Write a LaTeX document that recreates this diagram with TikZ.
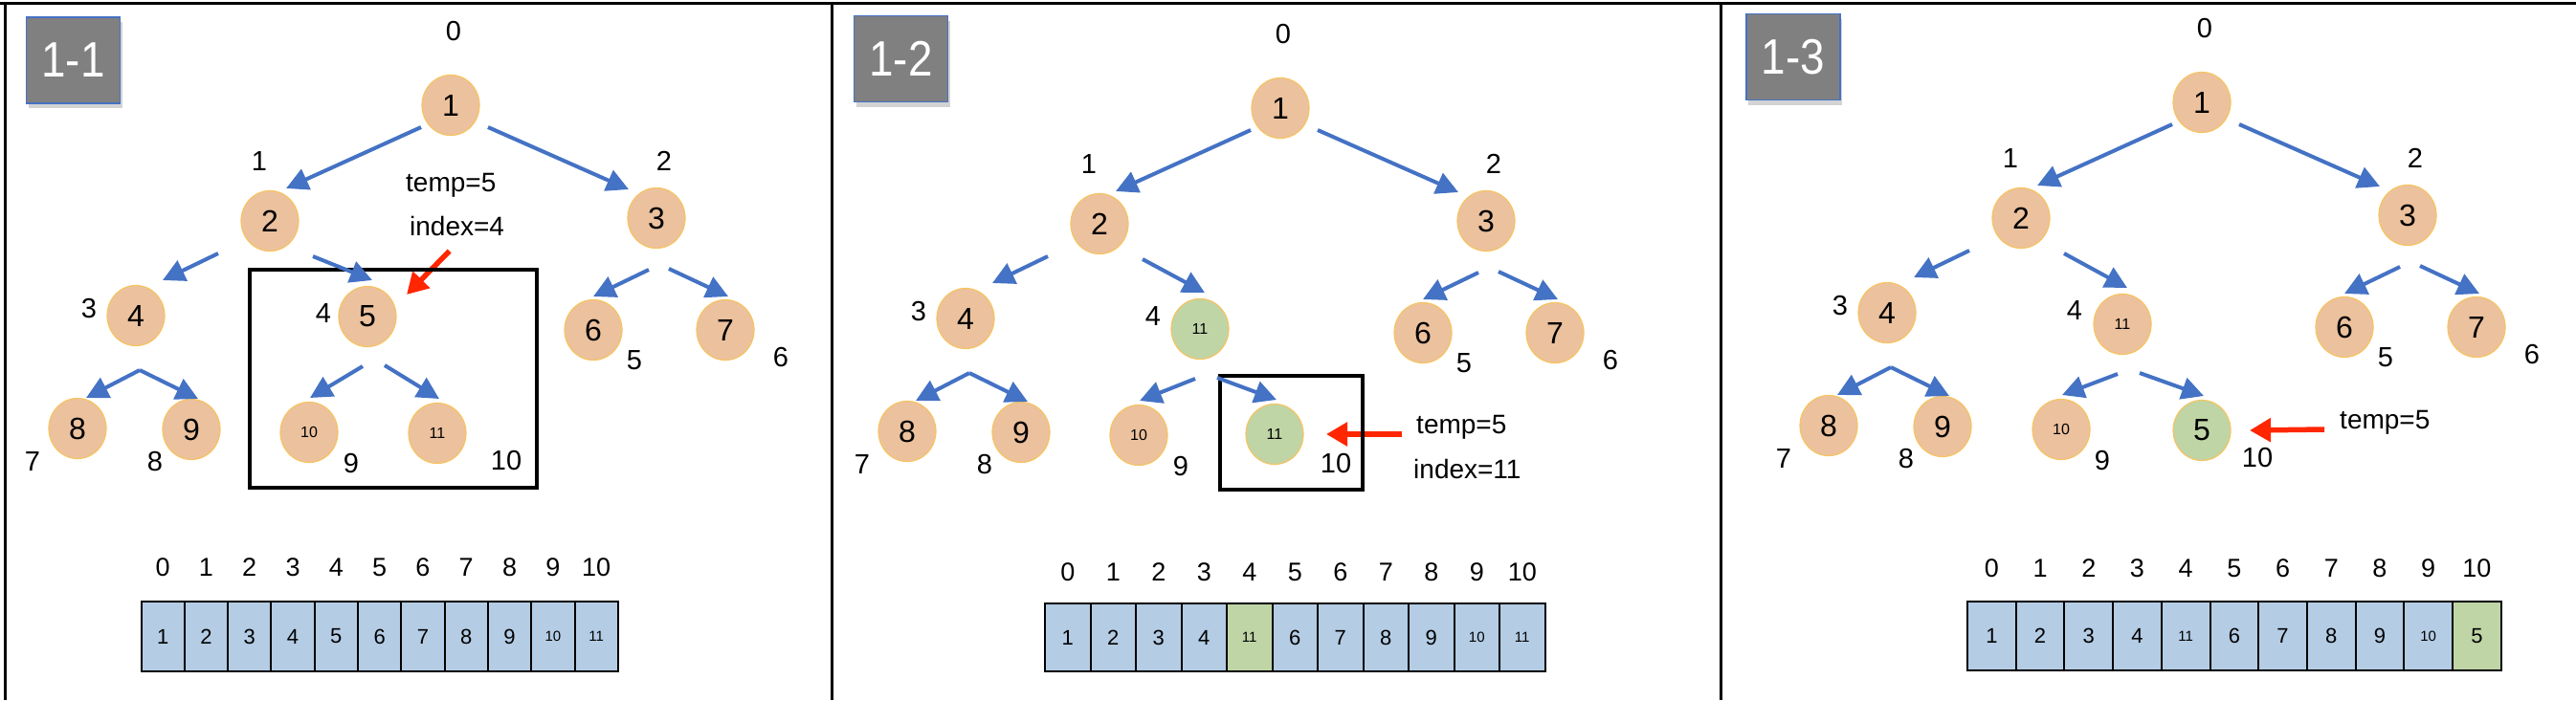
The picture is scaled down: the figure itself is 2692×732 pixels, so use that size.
\documentclass[tikz,border=0pt]{standalone}
\usepackage{fontspec}
\setmainfont{Liberation Sans}
\usetikzlibrary{arrows.meta, shapes.geometric, shadows, calc}

\definecolor{peach}{RGB}{236,193,158}
\definecolor{ringgold}{RGB}{246,196,98}
\definecolor{sage}{RGB}{191,213,166}
\definecolor{cellblue}{RGB}{180,204,228}
\definecolor{linkblue}{RGB}{68,114,196}
\definecolor{pointred}{RGB}{255,38,0}
\definecolor{taggray}{RGB}{128,128,128}

\begin{document}
\begin{tikzpicture}[x=1pt, y=-1pt,
  heapnode/.style={ellipse, draw=ringgold, line width=1.2pt, fill=peach, minimum width=60pt, minimum height=63pt, inner sep=0pt, font=\fontsize{32}{32}\selectfont},
  newnode/.style={heapnode, fill=sage},
  smallnum/.style={font=\fontsize{16}{16}\selectfont},
  treeidx/.style={inner sep=0pt, font=\fontsize{29}{29}\selectfont},
  note/.style={inner sep=0pt, font=\fontsize{28}{28}\selectfont},
  childarrow/.style={draw=linkblue, line width=4pt, -{Triangle[length=23pt, width=23pt]}},
  pointer/.style={draw=pointred, line width=5.5pt, -{Triangle[length=22pt, width=24pt]}},
  cell/.style={rectangle, draw, line width=2pt, fill=cellblue, inner sep=0pt, font=\fontsize{22}{22}\selectfont},
  arrayidx/.style={inner sep=0pt, font=\fontsize{27}{27}\selectfont},
  stagetag/.style={rectangle, fill=taggray, draw=linkblue, line width=1.2pt, minimum width=98pt, minimum height=90pt, text=white, font=\fontsize{52}{52}\selectfont, drop shadow={opacity=0.35, shadow xshift=2pt, shadow yshift=-5pt}},
  focusbox/.style={draw, line width=4pt},
  panelline/.style={draw, line width=3pt}]

  \useasboundingbox (0,0) rectangle (2692,732);

  % panel borders
  \draw[panelline] (0,3.5) -- (2692,3.5);
  \draw[panelline] (5,3.5) -- (5,732);
  \draw[panelline] (869,3.5) -- (869,732);
  \draw[panelline] (1798,3.5) -- (1798,732);

  % panel 1-1
  \node[stagetag] (tag1) at (76.5,63) {\scalebox{0.88}[1]{1-1}};
  \begin{scope}[shift={(471,110)}]
    \foreach \n/\x/\y in {1/0/0, 2/-189/121, 3/215/118, 4/-329/220, 6/149/235, 7/287/235, 8/-390/338, 9/-271/339}
      \node[heapnode] (a\n) at (\x,\y) {\n};
    \node[heapnode] (a5) at (-87,221) {5};
    \node[heapnode, smallnum] (a10) at (-148,342) {10};
    \node[heapnode, smallnum] (a11) at (-14,343) {11};
    \foreach \i/\x/\y in {0/3/-77, 1/-200/59, 2/223/58, 3/-378/213, 4/-133/218, 5/192/267, 6/345/264, 7/-437/373, 8/-309/373, 9/-104/375, 10/58/372}
      \node[treeidx] (ap\i) at (\x,\y) {\i};
  \end{scope}
  \node[note, anchor=base west] (atemp) at (424,200) {temp=5};
  \node[note, anchor=base west] (aindex) at (428,246) {index=4};
  \draw[pointer] ($(aindex.south)+(-8,16)$) -- ($(a5)+(41,-23)$);
  \draw[focusbox] (261,282) rectangle (561,510);
  \foreach \v [count=\i from 0] in {1,2,3,4,5,6,7,8,9,10,11} {
    \node[cell, minimum width=45.3pt, minimum height=73pt] (aa\i) at ({170.15+45.3*\i},665.5) {\ifnum\v>9 \fontsize{15}{15}\selectfont\fi\v};
    \node[arrayidx] (ai\i) at ({170.15+45.3*\i},593) {\i};
  }

  % panel 1-2
  \node[stagetag] (tag2) at (941.5,61.5) {\scalebox{0.88}[1]{1-2}};
  \begin{scope}[shift={(1338,113)}]
    \foreach \n/\x/\y in {1/0/0, 2/-189/121, 3/215/118, 4/-329/220, 6/149/235, 7/287/235, 8/-390/338, 9/-271/339}
      \node[heapnode] (b\n) at (\x,\y) {\n};
    \node[newnode, smallnum] (b5) at (-84,231) {11};
    \node[heapnode, smallnum] (b10) at (-148,342) {10};
    \node[newnode, smallnum] (b11) at (-6,341) {11};
    \foreach \i/\x/\y in {0/3/-77, 1/-200/59, 2/223/58, 3/-378/213, 4/-133/218, 5/192/267, 6/345/264, 7/-437/373, 8/-309/373, 9/-104/375, 10/58/372}
      \node[treeidx] (bp\i) at (\x,\y) {\i};
  \end{scope}
  \node[note, anchor=base west] (btemp) at (1480,453) {temp=5};
  \node[note, anchor=base west] (bindex) at (1477,500) {index=11};
  \coordinate (bptr) at (1465,454);
  \draw[pointer] (bptr) -- ($(b11)+(54,0)$);
  \draw[focusbox] (1275,393) rectangle (1424,512);
  \foreach \v/\c [count=\i from 0] in {1/cellblue, 2/cellblue, 3/cellblue, 4/cellblue, 11/sage, 6/cellblue, 7/cellblue, 8/cellblue, 9/cellblue, 10/cellblue, 11/cellblue} {
    \node[cell, fill=\c, minimum width=47.5pt, minimum height=71pt] (ba\i) at ({1115.75+47.5*\i},666.5) {\ifnum\v>9 \fontsize{15}{15}\selectfont\fi\v};
    \node[arrayidx] (bi\i) at ({1115.75+47.5*\i},598) {\i};
  }

  % panel 1-3
  \node[stagetag] (tag3) at (1874,59.5) {\scalebox{0.88}[1]{1-3}};
  \begin{scope}[shift={(2301,107)}]
    \foreach \n/\x/\y in {1/0/0, 2/-189/121, 3/215/118, 4/-329/220, 6/149/235, 7/287/235, 8/-390/338, 9/-271/339}
      \node[heapnode] (c\n) at (\x,\y) {\n};
    \node[heapnode, smallnum] (c5) at (-83,232) {11};
    \node[heapnode, smallnum] (c10) at (-147,342) {10};
    \node[newnode] (c11) at (0,343) {5};
    \foreach \i/\x/\y in {0/3/-77, 1/-200/59, 2/223/58, 3/-378/213, 4/-133/218, 5/192/267, 6/345/264, 7/-437/373, 8/-309/373, 9/-104/375, 10/58/372}
      \node[treeidx] (cp\i) at (\x,\y) {\i};
  \end{scope}
  \node[note, anchor=base west] (ctemp) at (2445,448) {temp=5};
  \coordinate (cptr) at (2429,449);
  \draw[pointer] (cptr) -- ($(c11)+(50,0)$);
  \foreach \v/\c [count=\i from 0] in {1/cellblue, 2/cellblue, 3/cellblue, 4/cellblue, 11/cellblue, 6/cellblue, 7/cellblue, 8/cellblue, 9/cellblue, 10/cellblue, 5/sage} {
    \node[cell, fill=\c, minimum width=50.7pt, minimum height=72pt] (ca\i) at ({2081.35+50.7*\i},665) {\ifnum\v>9 \fontsize{15}{15}\selectfont\fi\v};
    \node[arrayidx] (ci\i) at ({2081.35+50.7*\i},594) {\i};
  }

  % tree links, same in every panel
  \foreach \p in {a,b,c}
    \foreach \s/\t/\sx/\sy/\tx/\ty in {1/2/-31/23/17/-34, 1/3/39/23/-29/-30, 2/4/-54/34/28/-37, 2/5/45/37/5/-38, 3/6/-8/54/0/-35, 3/7/13/53/3/-35, 4/8/4/57/9/-32, 4/9/4/57/7/-32, 5/10/-5/52/1/-36, 5/11/18/51/2/-36}
      \draw[childarrow] ($(\p\s)+(\sx,\sy)$) -- ($(\p\t)+(\tx,\ty)$);
\end{tikzpicture}
\end{document}
